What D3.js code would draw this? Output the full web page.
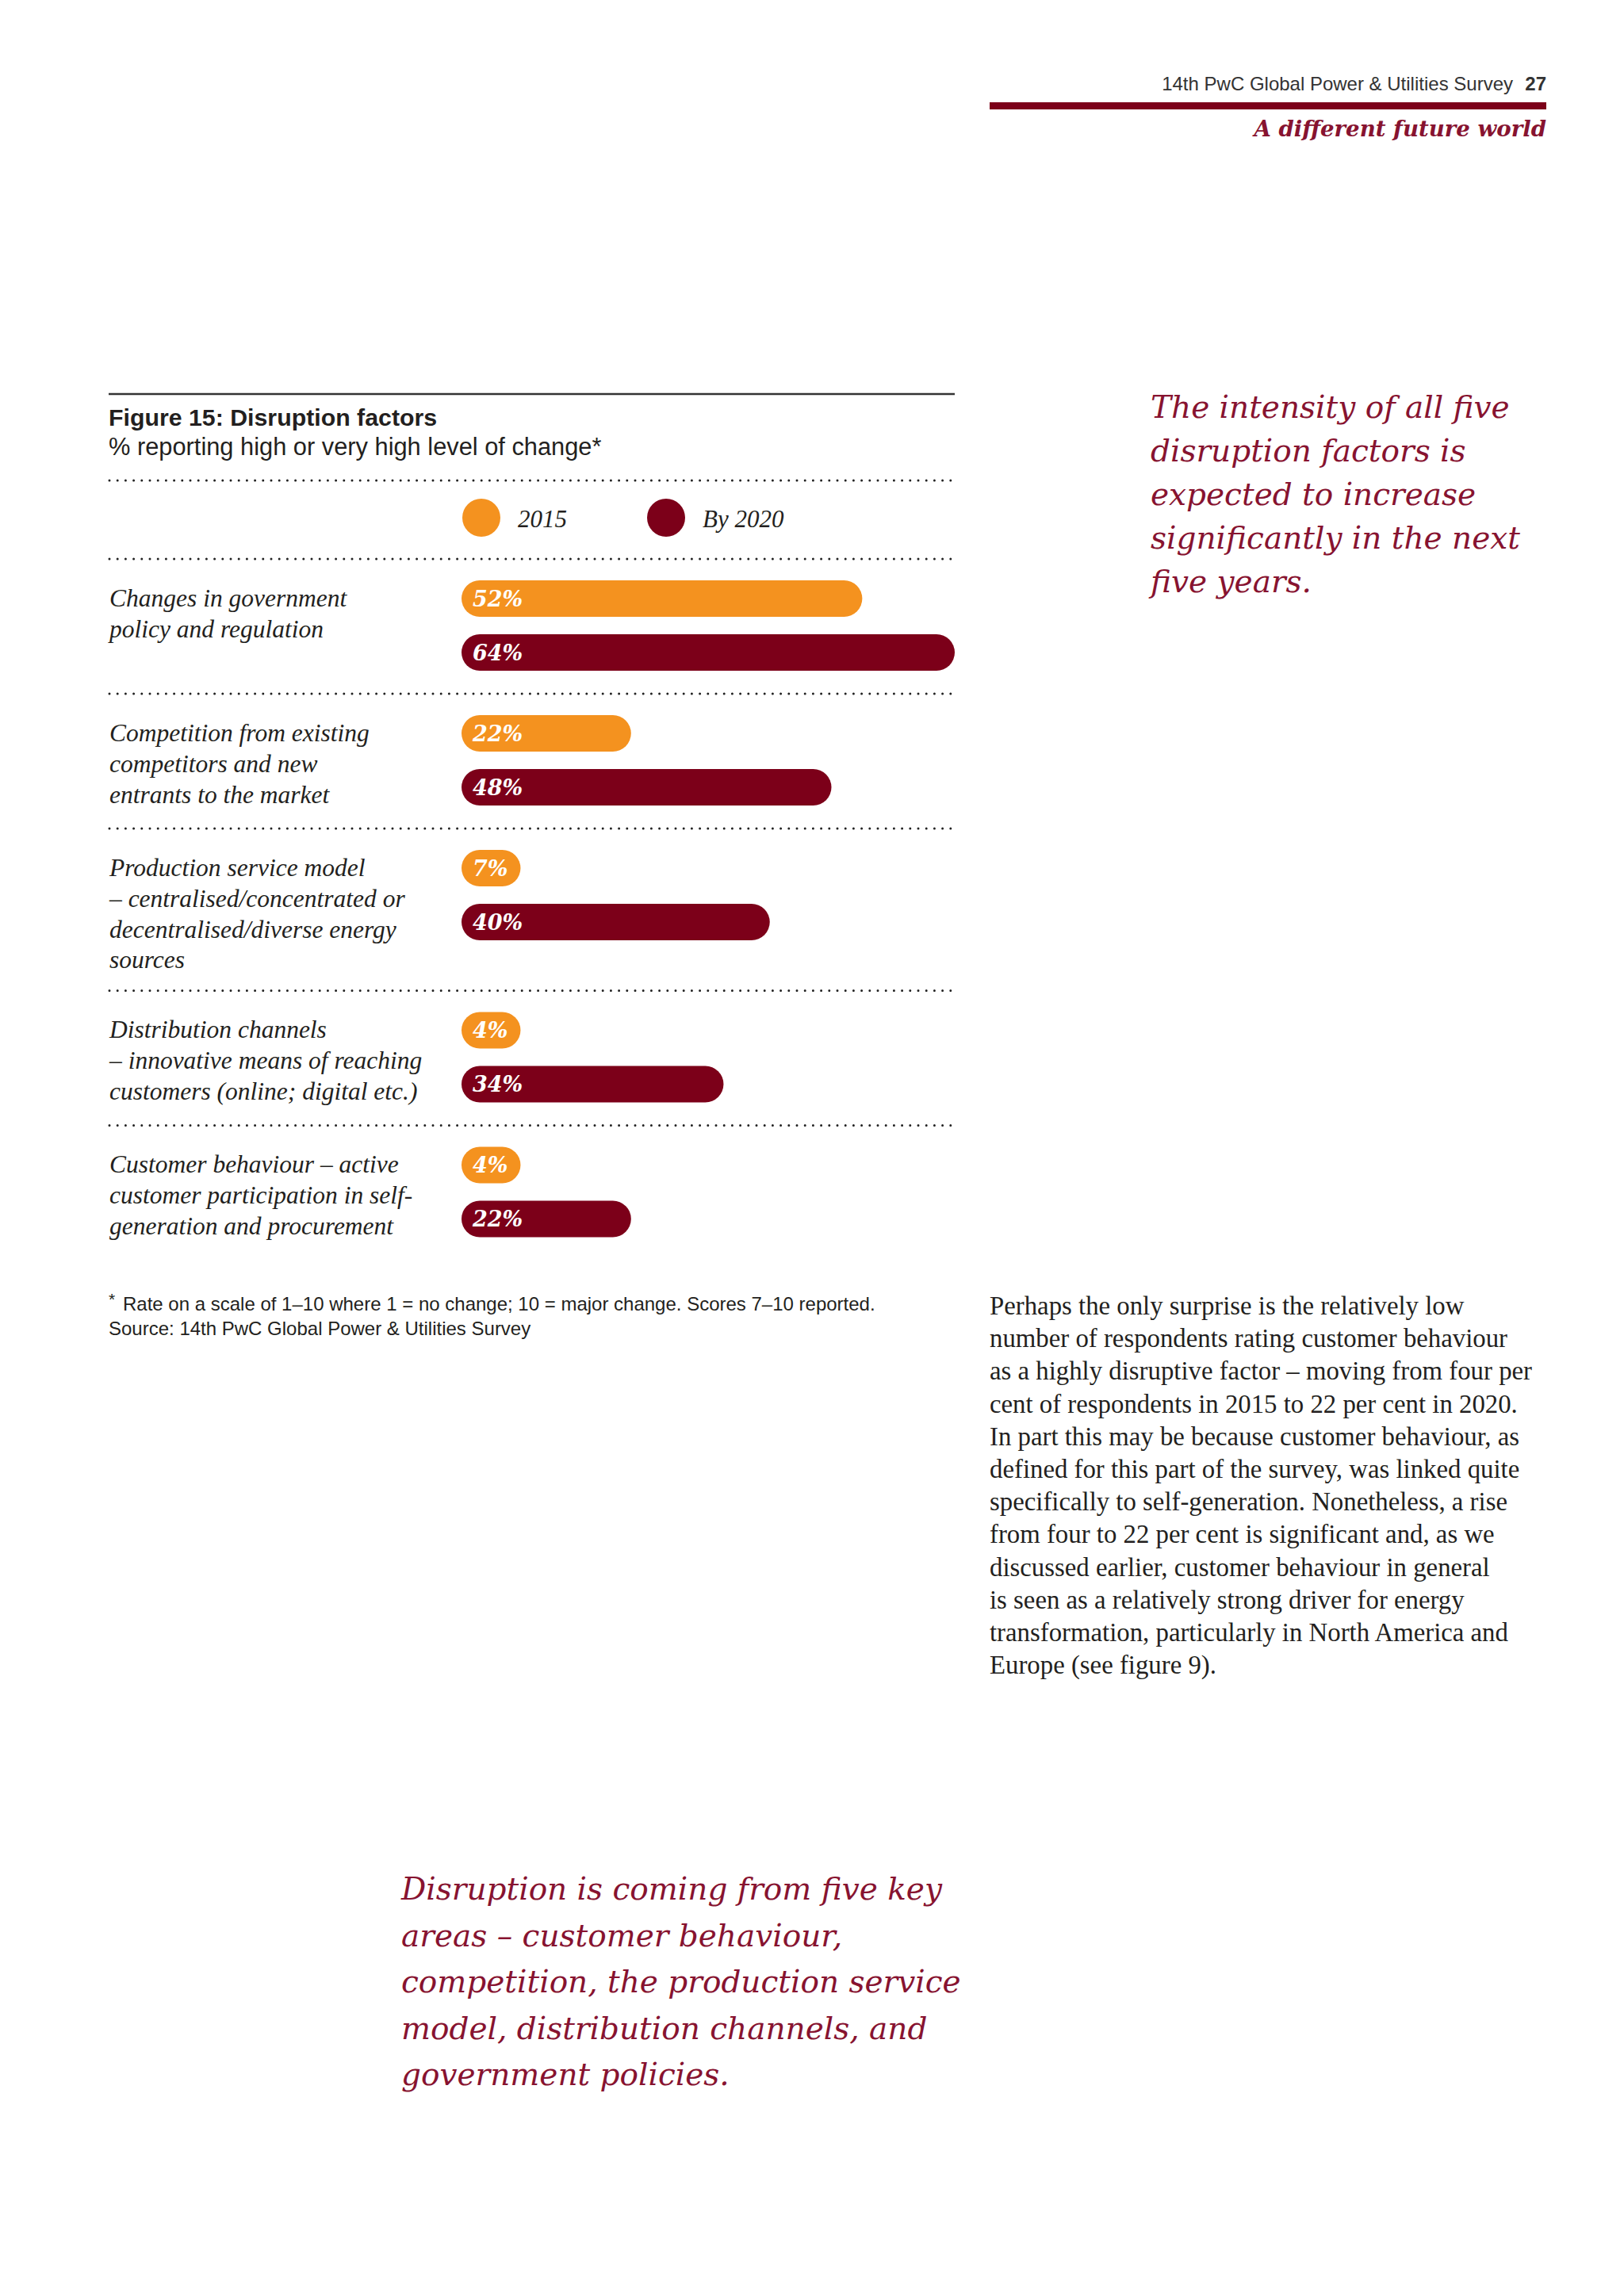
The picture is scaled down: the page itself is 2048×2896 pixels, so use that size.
<!DOCTYPE html>
<html>
<head>
<meta charset="utf-8">
<script src="https://cdn.jsdelivr.net/npm/d3@7"></script>
<style>
  html, body { margin: 0; padding: 0; background: #ffffff; }
  svg { display: block; }
</style>
</head>
<body>
<div id="page"></div>
<script>
// Datos de la figura 15

const seriesNames = ["2015", "By 2020"];
const categoryLines = [
    ["Changes in government", "policy and regulation"],
    ["Competition from existing", "competitors and new", "entrants to the market"],
    ["Production service model", "– centralised/concentrated or", "decentralised/diverse energy", "sources"],
    ["Distribution channels", "– innovative means of reaching", "customers (online; digital etc.)"],
    ["Customer behaviour – active", "customer participation in self-", "generation and procurement"],
];
const values2015 = [52, 22, 7, 4, 4];
const values2020 = [64, 48, 40, 34, 22];

const quoteRight = [
    "The intensity of all five",
    "disruption factors is",
    "expected to increase",
    "significantly in the next",
    "five years.",
];
const quoteBottom = [
    "Disruption is coming from five key",
    "areas – customer behaviour,",
    "competition, the production service",
    "model, distribution channels, and",
    "government policies.",
];
const bodyLines = [
    "Perhaps the only surprise is the relatively low",
    "number of respondents rating customer behaviour",
    "as a highly disruptive factor – moving from four per",
    "cent of respondents in 2015 to 22 per cent in 2020.",
    "In part this may be because customer behaviour, as",
    "defined for this part of the survey, was linked quite",
    "specifically to self-generation. Nonetheless, a rise",
    "from four to 22 per cent is significant and, as we",
    "discussed earlier, customer behaviour in general",
    "is seen as a relatively strong driver for energy",
    "transformation, particularly in North America and",
    "Europe (see figure 9).",
];

// Constantes de estilo

const WIDTH = 2048;
const HEIGHT = 2896;

const ORANGE = "#f4921f";
const DARK_RED = "#7c0019";
const QUOTE_RED = "#871330";
const TEXT = "#231f20";

const SANS = "'Liberation Sans', Arial, sans-serif";
const SERIF = "'Liberation Serif', 'Times New Roman', serif";
const SERIF_WIDE = "'DejaVu Serif', serif";

const CHART = { left: 137, right: 1204, barLeft: 582 };
const LINE_H = 38.8;

const svg = d3.select("#page")
    .append("svg")
    .attr("width", WIDTH)
    .attr("height", HEIGHT);

svg.append("rect")
    .attr("width", WIDTH)
    .attr("height", HEIGHT)
    .attr("fill", "#ffffff");

// Cabecera de la pagina

svg.append("text")
    .attr("x", 1908)
    .attr("y", 114)
    .attr("text-anchor", "end")
    .style("font-family", SANS)
    .style("font-size", "24px")
    .attr("fill", "#333")
    .text("14th PwC Global Power & Utilities Survey");

svg.append("text")
    .attr("x", 1950)
    .attr("y", 114)
    .attr("text-anchor", "end")
    .style("font-family", SANS)
    .style("font-size", "24px")
    .style("font-weight", "bold")
    .attr("fill", "#333")
    .text("27");

svg.append("rect")
    .attr("x", 1248)
    .attr("y", 129)
    .attr("width", 702)
    .attr("height", 9)
    .attr("fill", DARK_RED);

svg.append("text")
    .attr("x", 1950)
    .attr("y", 172)
    .attr("text-anchor", "end")
    .style("font-family", SERIF_WIDE)
    .style("font-size", "27.6px")
    .style("font-weight", "bold")
    .style("font-style", "italic")
    .attr("fill", QUOTE_RED)
    .text("A different future world");

// Titulo de la figura

svg.append("line")
    .attr("x1", CHART.left)
    .attr("x2", CHART.right)
    .attr("y1", 497)
    .attr("y2", 497)
    .attr("stroke", "#333")
    .attr("stroke-width", 2.5);

svg.append("text")
    .attr("x", CHART.left)
    .attr("y", 537)
    .style("font-family", SANS)
    .style("font-size", "30.3px")
    .style("font-weight", "bold")
    .attr("fill", TEXT)
    .text("Figure 15: Disruption factors");

svg.append("text")
    .attr("x", CHART.left)
    .attr("y", 574)
    .style("font-family", SANS)
    .style("font-size", "30.8px")
    .attr("fill", TEXT)
    .text("% reporting high or very high level of change*");

function dottedLine(y) {
    svg.append("line")
        .attr("class", "punteada")
        .attr("x1", CHART.left + 1)
        .attr("x2", CHART.right)
        .attr("y1", y)
        .attr("y2", y)
        .attr("stroke", "#222")
        .attr("stroke-width", 3)
        .attr("stroke-linecap", "round")
        .attr("stroke-dasharray", "0 10.2");
}

dottedLine(606);
dottedLine(705);

// Escalas

const color = d3.scaleOrdinal(seriesNames, [ORANGE, DARK_RED]);

const xScale = d3.scaleLinear()
    .domain([0, d3.max(values2020)])
    .range([CHART.barLeft, CHART.right]);

const ySeries = d3.scaleBand()
    .domain(seriesNames)
    .range([27, 141])
    .paddingInner(0.3235);

// Leyenda

const legendX = d3.scaleOrdinal(seriesNames, [607, 840]);

const legend = svg.selectAll(".leyenda")
    .data(seriesNames)
    .join("g")
    .attr("class", "leyenda")
    .attr("transform", d => `translate(${legendX(d)}, 653)`);

legend.append("circle")
    .attr("r", 24)
    .attr("fill", d => color(d));

legend.append("text")
    .attr("x", 46)
    .attr("y", 12)
    .style("font-family", SERIF)
    .style("font-style", "italic")
    .style("font-size", "31px")
    .attr("fill", TEXT)
    .text(d => d);

// Filas

let cursor = 705;
const rows = categoryLines.map((lines, i) => {
    const top = cursor;
    cursor += Math.max(170, 60 + (lines.length - 1) * LINE_H + 28);
    return {
        lines: lines,
        top: top,
        bottom: cursor,
        bars: seriesNames.map((s, j) => ({ serie: s, value: [values2015, values2020][j][i] })),
    };
});

const rowG = svg.selectAll(".fila")
    .data(rows)
    .join("g")
    .attr("class", "fila")
    .attr("transform", d => `translate(0, ${d.top})`);

rowG.append("text")
    .attr("class", "categoria")
    .style("font-family", SERIF)
    .style("font-style", "italic")
    .style("font-size", "31.5px")
    .attr("fill", TEXT)
    .selectAll("tspan")
    .data(d => d.lines)
    .join("tspan")
    .attr("x", CHART.left + 1)
    .attr("y", (d, i) => 60 + i * LINE_H)
    .text(d => d);

const barG = rowG.selectAll(".barra")
    .data(d => d.bars)
    .join("g")
    .attr("class", "barra")
    .attr("transform", d => `translate(${xScale(0)}, ${ySeries(d.serie)})`);

const rects = barG.append("rect")
    .attr("height", ySeries.bandwidth())
    .attr("rx", ySeries.bandwidth() / 2)
    .attr("fill", d => color(d.serie));

const labels = barG.append("text")
    .attr("x", 14)
    .attr("y", ySeries.bandwidth() / 2 + 10)
    .style("font-family", SERIF_WIDE)
    .style("font-style", "italic")
    .style("font-weight", "bold")
    .style("font-size", "27px")
    .attr("fill", "#fff")
    .text(d => d.value + "%");

// la pastilla nunca es mas corta que su etiqueta
labels.each(function (d) {
    d.labelW = this.getComputedTextLength();
});
rects.attr("width", d => Math.max(xScale(d.value) - xScale(0), d.labelW + 30));

// separadores entre filas (no despues de la ultima)
rows.slice(0, -1).forEach(r => dottedLine(r.bottom));

// Notas

const foot = svg.append("text")
    .attr("x", CHART.left)
    .attr("y", 1653)
    .style("font-family", SANS)
    .style("font-size", "24px")
    .attr("fill", TEXT);
foot.append("tspan")
    .attr("dy", -7)
    .style("font-size", "21px")
    .text("*");
foot.append("tspan")
    .attr("x", 155)
    .attr("y", 1653)
    .text("Rate on a scale of 1–10 where 1 = no change; 10 = major change. Scores 7–10 reported.");

svg.append("text")
    .attr("x", CHART.left)
    .attr("y", 1684)
    .style("font-family", SANS)
    .style("font-size", "24px")
    .attr("fill", TEXT)
    .text("Source: 14th PwC Global Power & Utilities Survey");

// Citas y texto

function textBlock(lines, x, y0, lineH, font, size, style, fill) {
    svg.append("text")
        .style("font-family", font)
        .style("font-size", size + "px")
        .style("font-style", style)
        .attr("fill", fill)
        .selectAll("tspan")
        .data(lines)
        .join("tspan")
        .attr("x", x)
        .attr("y", (d, i) => y0 + i * lineH)
        .text(d => d);
}

textBlock(quoteRight, 1451, 527, 55, SERIF_WIDE, 39, "italic", QUOTE_RED);
textBlock(bodyLines, 1248, 1658, 41.2, SERIF, 32.8, "normal", TEXT);
textBlock(quoteBottom, 506, 2396, 58.5, SERIF_WIDE, 39, "italic", QUOTE_RED);
</script>
</body>
</html>
